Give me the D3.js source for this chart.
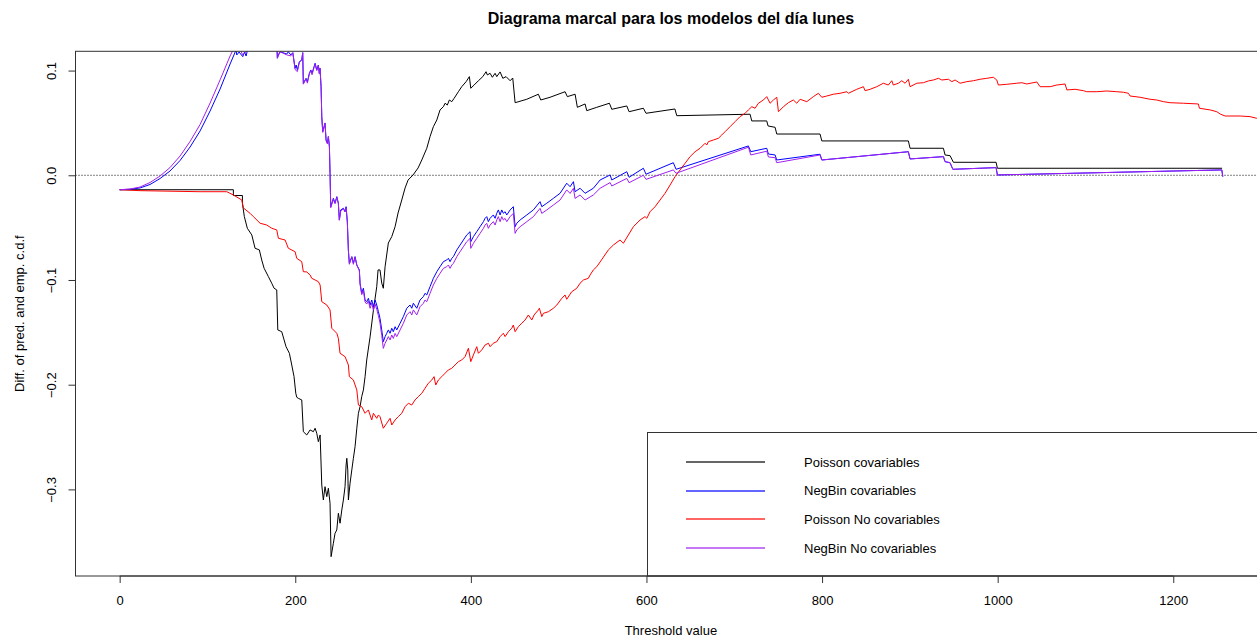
<!DOCTYPE html>
<html>
<head>
<meta charset="utf-8">
<script src="https://cdn.jsdelivr.net/npm/d3@7"></script>
<style>
  html, body { margin: 0; padding: 0; background: #fff; }
  svg { display: block; font-family: "Liberation Sans", Arial, Helvetica, sans-serif; }
</style>
</head>
<body>
<svg id="chart" width="1257" height="638"></svg>
<script>
// Difference between predicted and empirical c.d.f. for each model, by threshold value.
// Each series: [threshold, difference]

const poissonCov = [
  [0,-0.0138],[129.5,-0.0138],[129.5,-0.0193],[139.8,-0.0193],[139.8,-0.0267],[142.0,-0.0395],
  [145.4,-0.0506],[150.5,-0.0570],[154.2,-0.0697],[159.1,-0.0713],[161.8,-0.0809],[164.5,-0.0888],
  [169.4,-0.0968],[173.2,-0.1031],[175.9,-0.1079],[178.9,-0.1095],[180.1,-0.1477],[184.6,-0.1494],
  [189.5,-0.1637],[193.3,-0.1700],[196.0,-0.1812],[198.6,-0.1923],[200.6,-0.2082],[201.7,-0.2120],
  [203.5,-0.2130],[207.4,-0.2146],[209.2,-0.2449],[213.1,-0.2480],[216.9,-0.2432],[220.6,-0.2449],
  [222.6,-0.2416],[224.5,-0.2464],[226.3,-0.2544],[228.3,-0.2480],[230.2,-0.2958],[232.0,-0.3101],
  [233.9,-0.2974],[235.9,-0.3069],[237.7,-0.2989],[239.6,-0.3132],[240.8,-0.3642],[243.4,-0.3514],
  [245.3,-0.3419],[247.3,-0.3387],[249.1,-0.3228],[251.0,-0.3323],[253.0,-0.3196],[254.8,-0.3101],
  [256.7,-0.2974],[257.9,-0.2767],[258.7,-0.2703],[259.8,-0.2814],[260.5,-0.3101],[262.4,-0.2941],
  [264.4,-0.2814],[266.2,-0.2703],[268.1,-0.2592],[270.1,-0.2416],[271.9,-0.2273],[273.8,-0.2210],
  [275.7,-0.2114],[277.6,-0.2050],[279.5,-0.1923],[281.4,-0.1764],[285.2,-0.1544],[288.6,-0.1315],
  [292.8,-0.1064],[294.3,-0.0904],[296.5,-0.0904],[298.5,-0.1029],[300.3,-0.1079],[302.3,-0.0873],
  [306.0,-0.0647],[309.9,-0.0586],[313.7,-0.0491],[317.1,-0.0360],[321.3,-0.0236],[325.1,-0.0121],
  [328.5,-0.0045],[334.2,0.0003],[339.9,0.0070],[344.1,0.0146],[349.8,0.0258],[353.5,0.0369],
  [357.3,0.0464],[361.2,0.0528],[364.9,0.0624],[368.7,0.0655],[370.6,0.0688],[373.2,0.0671],
  [375.5,0.0719],[378.3,0.0703],[380.9,0.0735],[385.8,0.0798],[389.6,0.0846],[394.6,0.0894],
  [398.3,0.0942],[399.9,0.0831],[403.7,0.0862],[408.6,0.0903],[413.6,0.0942],[417.3,0.0989],
  [418.8,0.0958],[421.9,0.0974],[424.5,0.0936],[427.6,0.0974],[429.5,0.0942],[433.3,0.0987],
  [436.4,0.0926],[440.1,0.0942],[444.7,0.0903],[447.7,0.0929],[450.4,0.0693],[463.7,0.0726],
  [476.9,0.0774],[479.6,0.0719],[490.2,0.0745],[507.3,0.0798],[509.9,0.0751],[518.7,0.0774],
  [521.3,0.0649],[530.1,0.0681],[532.0,0.0617],[543.4,0.0649],[557.8,0.0688],[560.5,0.0630],
  [577.6,0.0662],[580.2,0.0607],[596.5,0.0640],[599.5,0.0592],[632.4,0.0633],[634.5,0.0569],
  [718.0,0.0583],[719.9,0.0519],[737.0,0.0519],[738.5,0.0471],[746.5,0.0458],[748.4,0.0394],
  [797.7,0.0394],[799.7,0.0328],[898.3,0.0328],[900.2,0.0258],[938.2,0.0258],[940.1,0.0194],
  [945.8,0.0187],[949.6,0.0124],[998.2,0.0124],[999.7,0.0067],[1255.6,0.0067]
];

const negbinCov = [
  [0,-0.0138],[11.8,-0.0134],[23.2,-0.0121],[34.6,-0.0088],[46.0,-0.0031],[57.4,0.0041],
  [68.8,0.0141],[80.2,0.0270],[91.6,0.0423],[103.0,0.0614],[114.4,0.0824],[125.8,0.1063],
  [132.6,0.1197],[133.4,0.1149],[136.0,0.1177],[140.2,0.1133],[142.2,0.1177],[144.0,0.1139],
  [146.2,0.1216],[159.9,0.129],[171.3,0.131],[179.3,0.1216],[179.6,0.1117],[180.7,0.1149],
  [182.7,0.1180],[190.3,0.1158],[192.1,0.1180],[194.9,0.1149],[197.2,0.1171],[199.8,0.1022],
  [201.0,0.1053],[202.4,0.1006],[204.7,0.1085],[207.4,0.1101],[208.5,0.1171],[209.2,0.0879],
  [212.3,0.0926],[213.8,0.0894],[216.1,0.0974],[217.7,0.1006],[219.1,0.0974],[221.4,0.1037],
  [222.6,0.1070],[224.5,0.1006],[226.3,0.1053],[227.4,0.0974],[228.2,0.1022],[229.4,0.0846],
  [230.2,0.0560],[231.3,0.0416],[232.8,0.0464],[233.9,0.0497],[235.1,0.0337],[236.6,0.0306],
  [237.7,0.0369],[238.9,0.0273],[239.6,0.0019],[240.4,-0.0300],[243.4,-0.0220],[245.3,-0.0267],
  [247.3,-0.0204],[249.1,-0.0267],[250.2,-0.0427],[251.8,-0.0331],[254.8,-0.0315],[256.7,-0.0348],
  [257.9,-0.0300],[259.3,-0.0443],[260.5,-0.0713],[261.6,-0.0840],[264.4,-0.0777],[266.2,-0.0840],
  [268.1,-0.0777],[270.1,-0.0857],[273.0,-0.0904],[273.8,-0.1031],[275.7,-0.1127],[277.6,-0.1079],
  [279.5,-0.1191],[281.4,-0.1207],[283.3,-0.1175],[285.2,-0.1239],[287.1,-0.1191],[289.0,-0.1255],
  [290.9,-0.1191],[292.8,-0.1239],[294.7,-0.1303],[296.5,-0.1366],[298.5,-0.1477],[300.3,-0.1589],
  [302.3,-0.1541],[304.2,-0.1509],[306.0,-0.1477],[308.0,-0.1509],[309.9,-0.1461],[311.7,-0.1494],
  [313.7,-0.1446],[315.6,-0.1477],[319.4,-0.1413],[323.1,-0.1350],[327.0,-0.1270],[330.7,-0.1239],
  [332.7,-0.1270],[334.5,-0.1222],[338.4,-0.1270],[342.1,-0.1191],[345.9,-0.1159],[347.8,-0.1127],
  [349.8,-0.1143],[353.5,-0.1064],[357.3,-0.0984],[361.2,-0.0921],[364.9,-0.0873],[368.7,-0.0825],
  [372.5,-0.0809],[374.4,-0.0793],[376.3,-0.0825],[378.3,-0.0793],[380.1,-0.0777],[384.0,-0.0713],
  [387.7,-0.0666],[391.5,-0.0618],[395.3,-0.0570],[399.1,-0.0539],[399.9,-0.0634],[402.9,-0.0586],
  [406.7,-0.0539],[410.5,-0.0491],[414.3,-0.0443],[416.2,-0.0411],[418.1,-0.0395],[419.9,-0.0443],
  [421.9,-0.0411],[425.6,-0.0379],[427.6,-0.0411],[429.5,-0.0363],[431.3,-0.0331],[433.3,-0.0379],
  [435.2,-0.0331],[437.0,-0.0363],[439.0,-0.0348],[440.9,-0.0379],[444.7,-0.0331],[448.4,-0.0300],
  [450.4,-0.0491],[452.3,-0.0458],[456.1,-0.0427],[463.7,-0.0379],[471.2,-0.0331],[478.8,-0.0252],
  [480.8,-0.0300],[486.5,-0.0267],[494.0,-0.0220],[501.6,-0.0172],[509.2,-0.0076],[513.0,-0.0109],
  [516.8,-0.0061],[518.7,-0.0157],[524.4,-0.0124],[530.1,-0.0172],[539.5,-0.0124],[547.2,-0.0045],
  [558.6,0.0003],[560.5,-0.0045],[577.6,0.0034],[580.2,-0.0019],[596.5,0.0067],[599.5,0.0010],
  [630.6,0.0120],[633.7,0.0057],[716.1,0.0280],[718.8,0.0225],[737.0,0.0258],[738.9,0.0203],
  [746.5,0.0194],[748.4,0.0146],[797.7,0.0201],[799.7,0.0146],[898.3,0.0225],[900.2,0.0156],
  [938.2,0.0178],[940.1,0.0130],[945.8,0.0120],[948.9,0.0057],[998.2,0.0073],[999.7,0.0003],
  [1255.3,0.0051],[1256.4,-0.0013]
];

const poissonNoCov = [
  [0,-0.0138],[23.2,-0.0147],[91.6,-0.0157],[122.0,-0.0157],[129.5,-0.0188],[139.1,-0.0236],
  [140.9,-0.0312],[148.5,-0.0363],[152.3,-0.0395],[159.9,-0.0458],[167.5,-0.0475],[173.2,-0.0506],
  [178.9,-0.0522],[180.8,-0.0602],[188.4,-0.0618],[192.1,-0.0697],[199.8,-0.0730],[201.7,-0.0793],
  [207.4,-0.0825],[209.2,-0.0921],[213.1,-0.0923],[216.9,-0.0952],[218.8,-0.0984],[222.6,-0.1000],
  [226.3,-0.1016],[228.3,-0.1048],[230.2,-0.1207],[235.9,-0.1239],[239.6,-0.1286],[241.6,-0.1461],
  [247.3,-0.1509],[249.1,-0.1557],[251.0,-0.1700],[256.7,-0.1732],[260.5,-0.1812],[261.6,-0.1923],
  [266.2,-0.1955],[270.1,-0.2050],[271.9,-0.2194],[275.7,-0.2210],[279.5,-0.2273],[283.3,-0.2241],
  [287.1,-0.2337],[289.0,-0.2273],[292.8,-0.2321],[294.7,-0.2289],[296.5,-0.2305],[300.3,-0.2416],
  [304.2,-0.2368],[308.0,-0.2321],[309.9,-0.2385],[313.7,-0.2337],[317.4,-0.2305],[321.3,-0.2273],
  [325.1,-0.2210],[328.8,-0.2177],[332.7,-0.2194],[336.4,-0.2146],[340.2,-0.2114],[344.1,-0.2082],
  [347.8,-0.2034],[351.6,-0.1986],[355.5,-0.1955],[358.1,-0.1923],[360.0,-0.2003],[363.0,-0.1955],
  [366.9,-0.1923],[370.6,-0.1891],[374.4,-0.1859],[378.3,-0.1843],[382.0,-0.1812],[385.8,-0.1780],
  [389.6,-0.1764],[393.4,-0.1732],[397.2,-0.1652],[399.9,-0.1780],[402.9,-0.1716],[406.7,-0.1637],
  [408.6,-0.1700],[412.4,-0.1668],[416.2,-0.1621],[420.0,-0.1604],[421.9,-0.1637],[425.6,-0.1604],
  [429.5,-0.1589],[433.3,-0.1541],[437.0,-0.1509],[439.0,-0.1541],[442.7,-0.1494],[446.6,-0.1461],
  [448.4,-0.1430],[450.4,-0.1494],[454.1,-0.1446],[458.0,-0.1413],[461.8,-0.1382],[465.5,-0.1334],
  [469.4,-0.1382],[472.0,-0.1334],[476.9,-0.1286],[478.0,-0.1270],[480.8,-0.1350],[482.6,-0.1318],
  [488.3,-0.1303],[494.0,-0.1270],[497.9,-0.1239],[503.6,-0.1175],[507.3,-0.1143],[509.2,-0.1184],
  [514.9,-0.1112],[520.6,-0.1079],[524.4,-0.1031],[528.2,-0.1000],[533.8,-0.0984],[535.8,-0.0952],
  [539.5,-0.0904],[543.4,-0.0873],[547.2,-0.0828],[556.6,-0.0713],[562.3,-0.0666],[569.9,-0.0618],
  [573.7,-0.0649],[579.4,-0.0570],[585.1,-0.0491],[592.7,-0.0427],[598.4,-0.0395],[600.4,-0.0411],
  [604.1,-0.0348],[609.8,-0.0300],[615.5,-0.0236],[621.2,-0.0172],[626.9,-0.0093],[632.6,-0.0013],
  [638.3,0.0051],[644.0,0.0115],[649.7,0.0178],[655.4,0.0225],[661.1,0.0258],[666.8,0.0306],
  [668.7,0.0289],[670.5,0.0321],[676.2,0.0337],[681.9,0.0353],[685.8,0.0385],[689.5,0.0416],
  [695.2,0.0464],[700.9,0.0512],[706.6,0.0560],[712.3,0.0592],[716.1,0.0624],[720.0,0.0655],
  [723.7,0.0640],[727.5,0.0688],[733.2,0.0719],[737.0,0.0751],[740.8,0.0688],[744.6,0.0719],
  [748.4,0.0745],[750.3,0.0607],[756.0,0.0655],[761.6,0.0693],[767.3,0.0719],[771.2,0.0688],
  [775.0,0.0726],[782.6,0.0703],[790.1,0.0751],[795.8,0.0783],[799.7,0.0745],[805.4,0.0757],
  [812.9,0.0774],[820.5,0.0783],[828.2,0.0798],[830.0,0.0783],[839.5,0.0821],[847.1,0.0846],
  [849.0,0.0808],[854.7,0.0821],[862.3,0.0846],[869.8,0.0879],[875.5,0.0862],[879.4,0.0903],
  [881.2,0.0862],[886.9,0.0879],[890.8,0.0903],[894.6,0.0879],[898.3,0.0917],[900.2,0.0846],
  [907.9,0.0879],[915.4,0.0884],[921.1,0.0901],[926.8,0.0910],[932.5,0.0926],[936.4,0.0910],
  [943.9,0.0917],[947.8,0.0894],[951.5,0.0910],[957.2,0.0879],[964.8,0.0894],[972.4,0.0903],
  [980.0,0.0917],[987.6,0.0926],[995.1,0.0936],[999.0,0.0910],[1000.8,0.0862],[1010.4,0.0869],
  [1021.8,0.0879],[1027.5,0.0884],[1033.2,0.0872],[1044.6,0.0891],[1048.3,0.0846],[1059.7,0.0846],
  [1067.4,0.0862],[1076.8,0.0872],[1078.8,0.0815],[1088.2,0.0821],[1097.6,0.0808],[1101.5,0.0798],
  [1112.9,0.0798],[1124.3,0.0805],[1135.7,0.0798],[1143.2,0.0793],[1148.9,0.0783],[1150.8,0.0757],
  [1162.2,0.0745],[1173.6,0.0726],[1181.2,0.0719],[1188.8,0.0703],[1196.4,0.0693],[1211.5,0.0688],
  [1228.6,0.0681],[1229.8,0.0640],[1242.0,0.0624],[1249.6,0.0607],[1253.4,0.0585],[1259.1,0.0566],
  [1276.2,0.0566],[1287.5,0.0560],[1295.2,0.0544]
];

const negbinNoCov = [
  [0,-0.0138],[11.8,-0.0131],[23.2,-0.0112],[34.6,-0.0069],[46.0,-0.0007],[57.4,0.0074],
  [68.8,0.0184],[80.2,0.0323],[91.6,0.0485],[103.0,0.0690],[114.4,0.0911],[125.8,0.1140],
  [130.3,0.1216],[133.0,0.118],[137.0,0.121],[140.0,0.115],[144.0,0.118],[146.0,0.123],
  [160.0,0.131],[171.0,0.133],[179.0,0.122],[179.6,0.112],[182.7,0.118],[190.3,0.115],
  [194.9,0.114],[197.2,0.117],[199.8,0.101],[202.4,0.099],[204.7,0.108],[207.4,0.110],
  [208.5,0.117],[209.2,0.087],[212.3,0.092],[213.8,0.088],[216.1,0.097],[217.7,0.100],
  [219.1,0.096],[221.4,0.103],[222.6,0.106],[224.5,0.100],[226.3,0.105],[227.4,0.097],
  [228.2,0.102],[229.4,0.085],[230.2,0.056],[231.3,0.041],[232.8,0.046],[233.9,0.050],
  [235.1,0.033],[236.6,0.030],[237.7,0.037],[238.9,0.027],[239.6,0.002],[240.4,-0.031],
  [243.4,-0.023],[245.3,-0.027],[247.3,-0.021],[249.1,-0.027],[250.2,-0.043],[251.8,-0.034],
  [254.8,-0.032],[256.7,-0.035],[257.9,-0.031],[259.3,-0.045],[260.5,-0.072],[261.6,-0.085],
  [264.4,-0.078],[266.2,-0.085],[268.1,-0.078],[270.1,-0.086],[273.0,-0.091],[273.8,-0.104],
  [275.7,-0.114],[277.6,-0.110],[279.5,-0.121],[281.4,-0.123],[283.3,-0.120],[285.2,-0.127],
  [287.1,-0.122],[289.0,-0.129],[290.9,-0.123],[292.8,-0.128],[294.7,-0.134],[296.5,-0.141],
  [298.5,-0.153],[300.3,-0.1653],[302.3,-0.1605],[304.2,-0.1573],[306.0,-0.1541],[308.0,-0.1573],
  [309.9,-0.1525],[311.7,-0.1558],[313.7,-0.1510],[315.6,-0.1541],[319.4,-0.1477],[323.1,-0.1414],
  [327.0,-0.1334],[330.7,-0.1303],[332.7,-0.1334],[334.5,-0.1286],[338.4,-0.1334],[342.1,-0.1255],
  [345.9,-0.1223],[347.8,-0.1191],[349.8,-0.1207],[353.5,-0.1128],[357.3,-0.1048],[361.2,-0.0985],
  [364.9,-0.0937],[368.7,-0.0889],[372.5,-0.0873],[374.4,-0.0857],[376.3,-0.0889],[378.3,-0.0857],
  [380.1,-0.0841],[384.0,-0.0777],[387.7,-0.0730],[391.5,-0.0682],[395.3,-0.0634],[399.1,-0.0603],
  [399.9,-0.0698],[402.9,-0.0650],[406.7,-0.0603],[410.5,-0.0555],[414.3,-0.0507],[416.2,-0.0475],
  [418.1,-0.0459],[419.9,-0.0507],[421.9,-0.0475],[425.6,-0.0443],[427.6,-0.0475],[429.5,-0.0427],
  [431.3,-0.0395],[433.3,-0.0443],[435.2,-0.0395],[437.0,-0.0427],[439.0,-0.0412],[440.9,-0.0443],
  [444.7,-0.0395],[448.4,-0.0364],[450.4,-0.0555],[452.3,-0.0522],[456.1,-0.0491],[463.7,-0.0443],
  [471.2,-0.0395],[478.8,-0.0316],[480.8,-0.0364],[486.5,-0.0331],[494.0,-0.0284],[501.6,-0.0236],
  [509.2,-0.0140],[513.0,-0.0173],[516.8,-0.0125],[518.7,-0.0221],[524.4,-0.0188],[530.1,-0.0236],
  [539.5,-0.0188],[547.2,-0.0124],[558.6,-0.0070],[560.5,-0.0102],[577.6,-0.0030],[580.2,-0.0071],
  [596.5,0.0000],[599.5,-0.0039],[630.6,0.0051],[633.7,0.0019],[716.1,0.0268],[718.8,0.0194],
  [737.0,0.0230],[738.9,0.0175],[746.5,0.0168],[748.4,0.0120],[797.7,0.0194],[799.7,0.0146],
  [898.3,0.0225],[900.2,0.0156],[938.2,0.0178],[940.1,0.0130],[945.8,0.0120],[948.9,0.0057],
  [998.2,0.0073],[999.7,0.0003],[1255.3,0.0051],[1256.4,-0.0013]
];

const seriesNames = ["Poisson covariables", "NegBin covariables", "Poisson No covariables", "NegBin No covariables"];
const seriesColors = ["#000000", "#0000FF", "#FF0000", "#A020F0"];
const xTicks = [0, 200, 400, 600, 800, 1000, 1200];
const yTicks = [-0.3, -0.2, -0.1, 0.0, 0.1];

const titleText = "Diagrama marcal para los modelos del día lunes";
const xLabel = "Threshold value";
const yLabel = "Diff. of pred. and emp. c.d.f";

// ---- layout ----
const svg = d3.select("#chart");
const plot = { left: 75.5, top: 51.3, bottom: 576 };
const x = d3.scaleLinear().domain([-50.3, 1306]).range([plot.left, plot.left + 1356.3 * 0.878]);
const y = d3.scaleLinear().domain([-0.3827, 0.1184]).range([plot.bottom, plot.top]);
const plotRight = x.range()[1];

svg.append("defs").append("clipPath").attr("id", "plotClip")
  .append("rect")
  .attr("x", plot.left).attr("y", plot.top)
  .attr("width", plotRight - plot.left).attr("height", plot.bottom - plot.top);

// reference line at zero
svg.append("line")
  .attr("x1", plot.left).attr("x2", plotRight)
  .attr("y1", y(0)).attr("y2", y(0))
  .attr("stroke", "#000").attr("stroke-width", 1)
  .attr("stroke-dasharray", "1,2");

const line = d3.line().x(d => x(d[0])).y(d => y(d[1]));
const allSeries = [poissonCov, negbinCov, poissonNoCov, negbinNoCov];
const g = svg.append("g").attr("clip-path", "url(#plotClip)");
allSeries.forEach((s, i) => {
  g.append("path")
    .datum(s)
    .attr("d", line)
    .attr("fill", "none")
    .attr("stroke", seriesColors[i])
    .attr("stroke-width", 1)
    .attr("stroke-linejoin", "miter");
});

// legend (drawn before the frame and axes so their lines stay on top)
const legend = svg.append("g");
legend.append("rect")
  .attr("x", 647.5).attr("y", 432.5)
  .attr("width", 700).attr("height", plot.bottom - 432.5)
  .attr("fill", "#fff").attr("stroke", "#333").attr("stroke-width", 1);
seriesNames.forEach((name, i) => {
  const yy = 462 + i * 28.7;
  // sample segment as a thin filled bar in the series colour
  legend.append("rect")
    .attr("x", 686).attr("width", 79)
    .attr("y", Math.round(yy) - 0.6).attr("height", 1.2)
    .attr("fill", seriesColors[i]);
  legend.append("text")
    .attr("x", 804).attr("y", yy)
    .attr("dominant-baseline", "central")
    .attr("font-size", 13)
    .text(name);
});

// frame
svg.append("rect")
  .attr("x", plot.left).attr("y", plot.top)
  .attr("width", plotRight - plot.left).attr("height", plot.bottom - plot.top)
  .attr("fill", "none").attr("stroke", "#333").attr("stroke-width", 1);

// axes
const xAxis = svg.append("g")
  .attr("transform", `translate(0,${plot.bottom})`)
  .call(d3.axisBottom(x).tickValues(xTicks).tickSize(7).tickPadding(13).tickFormat(d3.format("d")));
xAxis.select(".domain").attr("d", `M${x(0)},0H${x(1200)}`).attr("stroke", "#333");
xAxis.selectAll(".tick line").attr("stroke", "#333");
xAxis.selectAll("text").attr("font-size", 13).attr("fill", "#000")
  .attr("font-family", "Liberation Sans, Arial, sans-serif");

const yAxis = svg.append("g")
  .attr("transform", `translate(${plot.left},0)`)
  .call(d3.axisLeft(y).tickValues(yTicks).tickSize(7).tickFormat(d3.format(".1f")));
yAxis.select(".domain").attr("d", `M0,${y(-0.3)}V${y(0.1)}`).attr("stroke", "#333");
yAxis.selectAll(".tick line").attr("stroke", "#333");
yAxis.selectAll("text")
  .attr("font-size", 13).attr("fill", "#000")
  .attr("font-family", "Liberation Sans, Arial, sans-serif")
  .attr("x", null).attr("dy", null)
  .attr("text-anchor", "middle")
  .attr("transform", "translate(-24,0) rotate(-90)")
  .attr("dominant-baseline", "central");

// title and axis labels
const midX = (plot.left + plotRight) / 2;
svg.append("text")
  .attr("x", midX).attr("y", 24)
  .attr("text-anchor", "middle")
  .attr("font-size", 16).attr("font-weight", "bold")
  .text(titleText);

svg.append("text")
  .attr("x", midX).attr("y", 635)
  .attr("text-anchor", "middle")
  .attr("font-size", 13)
  .text(xLabel);

svg.append("text")
  .attr("transform", `translate(24,${(plot.top + plot.bottom) / 2}) rotate(-90)`)
  .attr("text-anchor", "middle")
  .attr("font-size", 13)
  .text(yLabel);
</script>
</body>
</html>
